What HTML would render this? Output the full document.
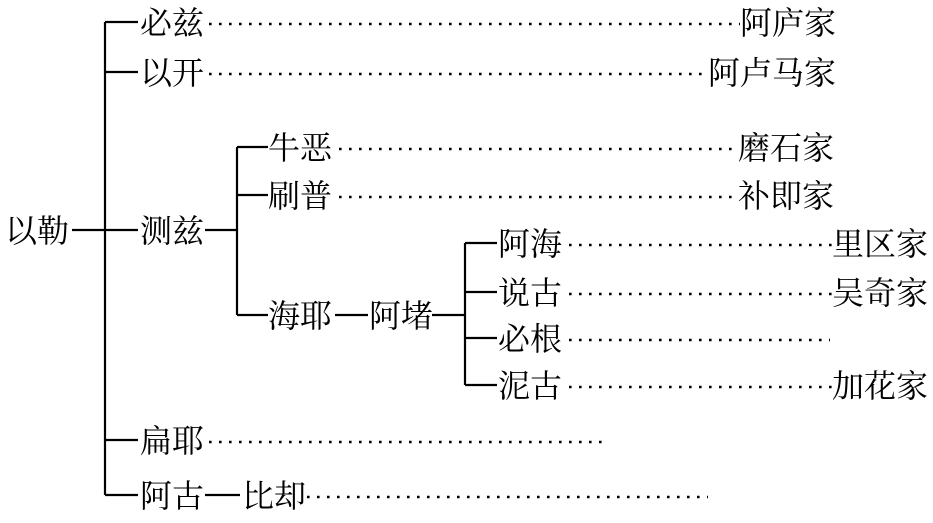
<!DOCTYPE html>
<html><head><meta charset="utf-8"><style>
html,body{margin:0;padding:0;background:#fff;}
svg text{font-family:"Noto Serif CJK SC","Liberation Serif",serif;font-size:32px;fill:#000;}
</style></head><body>
<svg width="933" height="518" viewBox="0 0 933 518" xmlns="http://www.w3.org/2000/svg">
<g stroke="#000" stroke-width="2.2" fill="none">
<line x1="105" y1="22" x2="105" y2="495"/>
<line x1="105" y1="22" x2="138" y2="22"/>
<line x1="105" y1="72" x2="138" y2="72"/>
<line x1="72" y1="230" x2="138" y2="230"/>
<line x1="105" y1="440" x2="138" y2="440"/>
<line x1="105" y1="495" x2="138" y2="495"/>
<line x1="237" y1="147" x2="237" y2="315"/>
<line x1="205" y1="230" x2="237" y2="230"/>
<line x1="237" y1="147" x2="268" y2="147"/>
<line x1="237" y1="195" x2="268" y2="195"/>
<line x1="237" y1="315" x2="268" y2="315"/>
<line x1="335" y1="315" x2="368" y2="315"/>
<line x1="432" y1="315" x2="465" y2="315"/>
<line x1="465" y1="243" x2="465" y2="385"/>
<line x1="465" y1="243" x2="497" y2="243"/>
<line x1="465" y1="292" x2="497" y2="292"/>
<line x1="465" y1="338" x2="497" y2="338"/>
<line x1="465" y1="385" x2="497" y2="385"/>
<line x1="205" y1="495" x2="240" y2="495"/>
</g>
<g stroke="#000" stroke-width="2.6" stroke-dasharray="2.6 7.4" fill="none">
<line x1="209" y1="24" x2="740" y2="24"/>
<line x1="209" y1="74" x2="708" y2="74"/>
<line x1="339" y1="149" x2="738" y2="149"/>
<line x1="339" y1="197" x2="738" y2="197"/>
<line x1="569" y1="245" x2="832" y2="245"/>
<line x1="569" y1="294" x2="832" y2="294"/>
<line x1="569" y1="340" x2="830" y2="340"/>
<line x1="569" y1="387" x2="832" y2="387"/>
<line x1="209" y1="442" x2="605" y2="442"/>
<line x1="307" y1="497" x2="708" y2="497"/>
</g>
<text x="5" y="242">以勒</text>
<text x="140" y="34">必兹</text>
<text x="140" y="84">以开</text>
<text x="140" y="242">测兹</text>
<text x="140" y="452">扁耶</text>
<text x="140" y="507">阿古</text>
<text x="242" y="507">比却</text>
<text x="268" y="159">牛恶</text>
<text x="268" y="207">刷普</text>
<text x="268" y="327">海耶</text>
<text x="369" y="327">阿堵</text>
<text x="498" y="255">阿海</text>
<text x="498" y="304">说古</text>
<text x="498" y="350">必根</text>
<text x="498" y="397">泥古</text>
<text x="740" y="34">阿庐家</text>
<text x="708" y="84">阿卢马家</text>
<text x="738" y="159">磨石家</text>
<text x="738" y="207">补即家</text>
<text x="832" y="255">里区家</text>
<text x="832" y="304">吴奇家</text>
<text x="832" y="397">加花家</text>
</svg>
</body></html>
